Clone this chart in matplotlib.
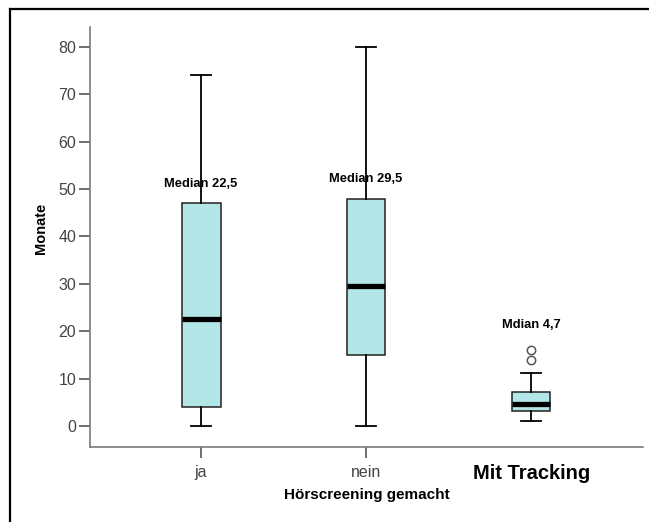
import matplotlib
matplotlib.use("Agg")
import matplotlib.pyplot as plt
from matplotlib.lines import Line2D

plt.rcParams['font.family'] = ['Liberation Sans', 'DejaVu Sans']

categories = ["ja", "nein", "Mit Tracking"]
whisker_low = [0, 0, 1.1]
q1 = [4, 15, 3.2]
medians = [22.5, 29.5, 4.7]
q3 = [47, 48, 7.2]
whisker_high = [74, 80, 11.1]
outliers = [[], [], [14, 16]]
median_labels = ["Median 22,5", "Median 29,5", "Mdian 4,7"]
label_y = [51.1, 52.1, 21.3]
yticks = [0, 10, 20, 30, 40, 50, 60, 70, 80]

fig = plt.figure(figsize=(6.49, 5.22), dpi=100)
ax = fig.add_axes([0.1387, 0.1437, 0.9908 - 0.1387, 0.9483 - 0.1437])

stats = []
for i in range(len(categories)):
    stats.append(dict(med=medians[i], q1=q1[i], q3=q3[i], whislo=whisker_low[i],
                      whishi=whisker_high[i], fliers=outliers[i], label=categories[i]))

positions = [1, 2, 3]
ax.bxp(stats, positions=positions, widths=0.236, capwidths=0.12, patch_artist=True,
       showfliers=True,
       boxprops=dict(facecolor='#b3e6e6', edgecolor='#222222', linewidth=1.1),
       medianprops=dict(color='black', linewidth=3.8, solid_capstyle='butt'),
       whiskerprops=dict(color='black', linewidth=1.3),
       capprops=dict(color='black', linewidth=1.3),
       flierprops=dict(marker='o', markerfacecolor='white', markeredgecolor='#555555',
                       markersize=6, markeredgewidth=1.1, linestyle='none'),
       zorder=3)

for p, t, y in zip(positions, median_labels, label_y):
    ax.text(p, y, t, ha='center', va='center', fontsize=9.3, fontweight='bold', zorder=1)

ax.set_xlim(0.327, 3.679)
ax.set_ylim(-4.43, 84.22)
ax.set_yticks(yticks)
ax.set_yticklabels([str(v) for v in yticks], fontsize=11.5, color='#444444')
ax.set_xticks([1, 2])
ax.set_xticklabels(categories[:2], fontsize=11.5, color='#444444')
ax.text(3.006, -0.04, categories[2], transform=ax.get_xaxis_transform(),
        ha='center', va='top', fontsize=14.5, fontweight='bold', color='black')

for s in ['top', 'right']:
    ax.spines[s].set_visible(False)
for s in ['left', 'bottom']:
    ax.spines[s].set_color('#7a7a7a')
    ax.spines[s].set_linewidth(1.2)
ax.tick_params(axis='both', colors='#555555', length=8, width=1.2, labelcolor='#444444')
ax.tick_params(axis='y', pad=2)
ax.tick_params(axis='x', pad=5)

ax.set_ylabel("Monate", fontsize=10.5, fontweight='bold', labelpad=7.5)
ax.yaxis.label.set_y(0.52)
ax.set_xlabel("Hörscreening gemacht", fontsize=11, fontweight='bold', labelpad=6)

# outer frame (top and left edges)
fig.add_artist(Line2D([10/649, 1.0], [1 - 9/522, 1 - 9/522], transform=fig.transFigure,
                      color='black', linewidth=1.6))
fig.add_artist(Line2D([10/649, 10/649], [0, 1 - 9/522], transform=fig.transFigure,
                      color='black', linewidth=1.6))

fig.savefig("out.png", dpi=100)
